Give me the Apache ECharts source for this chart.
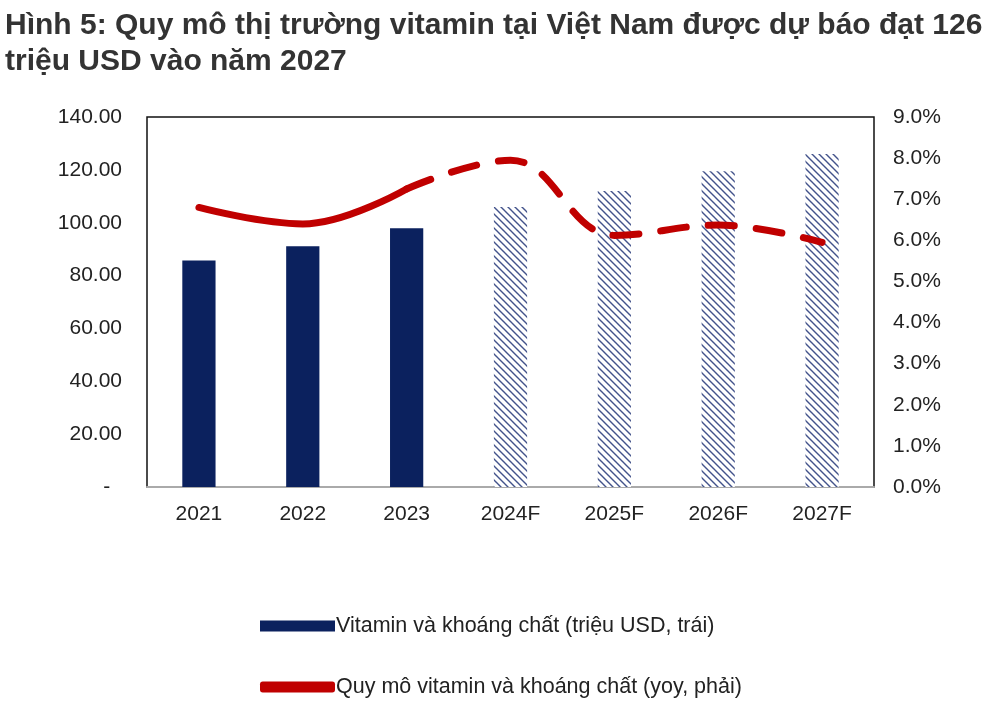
<!DOCTYPE html>
<html>
<head>
<meta charset="utf-8">
<script src="https://cdn.jsdelivr.net/npm/echarts@6/dist/echarts.min.js"></script>
<style>
  html, body { margin: 0; padding: 0; background: #fff; }
  #chart { width: 1000px; height: 711px; }
</style>
</head>
<body>
<div id="chart"></div>
<script>
// data
const years = ['2021', '2022', '2023', '2024F', '2025F', '2026F', '2027F'];
const marketSize = [85.7, 91.1, 97.9, 105.9, 112.0, 119.5, 126.0];   // triệu USD
const yoyActual = [6.8, 6.4, 7.25, null, null, null, null];          // %
const yoyForecast = [null, null, 7.25, 7.95, 6.12, 6.37, 5.95];      // %
const leftTicks = [0, 140, 20];
const rightTicks = [0, 9, 1];

const navy = '#0b215e';
const red = '#c00000';

// hatched fill for forecast bars
function hatch() {
    const s = 7;
    const c = document.createElement('canvas');
    c.width = s; c.height = s;
    const g = c.getContext('2d');
    g.fillStyle = '#fff';
    g.fillRect(0, 0, s, s);
    g.strokeStyle = 'rgba(20,40,110,0.8)';
    g.lineWidth = 1.4;
    g.beginPath();
    g.moveTo(-1, -1); g.lineTo(s + 1, s + 1);
    g.moveTo(-1, s - 1); g.lineTo(1, s + 1);
    g.moveTo(s - 1, -1); g.lineTo(s + 1, 1);
    g.stroke();
    return c;
}
const hatchPattern = { image: hatch(), repeat: 'repeat' };

const barName = 'Vitamin và khoáng chất (triệu USD, trái)';
const lineName = 'Quy mô vitamin và khoáng chất (yoy, phải)';

const chart = echarts.init(document.getElementById('chart'));
const font = 'Liberation Sans, Arial, sans-serif';

chart.setOption({
    animation: false,
    textStyle: { fontFamily: font },
    title: {
        text: 'Hình 5: Quy mô thị trường vitamin tại Việt Nam được dự báo đạt 126\ntriệu USD vào năm 2027',
        left: 0,
        top: 3,
        textStyle: { fontSize: 30, fontWeight: 'bold', color: '#333', lineHeight: 36, fontFamily: font }
    },
    legend: {
        orient: 'vertical',
        left: 255,
        top: 610,
        itemGap: 39,
        itemWidth: 75,
        itemHeight: 11,
        textStyle: { fontSize: 21.5, color: '#222', fontFamily: font, padding: [0, 0, 0, -4] },
        data: [
            { name: barName, icon: 'rect', itemStyle: { color: navy } },
            { name: lineName, icon: 'roundRect', itemStyle: { color: red } }
        ]
    },
    grid: {
        left: 147, right: 126, top: 117, bottom: 224,
        show: true, borderColor: '#111', borderWidth: 1.5
    },
    xAxis: {
        type: 'category',
        data: years,
        axisLine: { lineStyle: { color: '#aaa', width: 2 } },
        axisTick: { show: false },
        axisLabel: { fontSize: 21, color: '#222', margin: 17 }
    },
    yAxis: [
        {
            type: 'value',
            min: leftTicks[0], max: leftTicks[1], interval: leftTicks[2],
            splitLine: { show: false },
            axisLine: { show: false },
            axisTick: { show: false },
            axisLabel: {
                fontSize: 21, color: '#222', margin: 25,
                formatter: v => v === 0 ? '-  ' : v.toFixed(2)
            }
        },
        {
            type: 'value',
            min: rightTicks[0], max: rightTicks[1], interval: rightTicks[2],
            splitLine: { show: false },
            axisLine: { show: false },
            axisTick: { show: false },
            axisLabel: {
                fontSize: 21, color: '#222', margin: 19,
                formatter: v => v.toFixed(1) + '%'
            }
        }
    ],
    series: [
        {
            name: barName,
            type: 'bar',
            barWidth: '32%',
            data: marketSize.map((v, i) => ({
                value: v,
                itemStyle: { color: years[i].endsWith('F') ? hatchPattern : navy }
            }))
        },
        {
            name: lineName,
            type: 'line',
            yAxisIndex: 1,
            smooth: 0.4,
            showSymbol: false,
            lineStyle: { color: red, width: 7, cap: 'round' },
            itemStyle: { color: red },
            data: yoyActual
        },
        {
            name: 'forecast',
            type: 'line',
            yAxisIndex: 1,
            smooth: 0.4,
            showSymbol: false,
            lineStyle: { color: red, width: 7, type: [26, 22], cap: 'round' },
            itemStyle: { color: red },
            data: yoyForecast
        }
    ]
});
</script>
</body>
</html>
